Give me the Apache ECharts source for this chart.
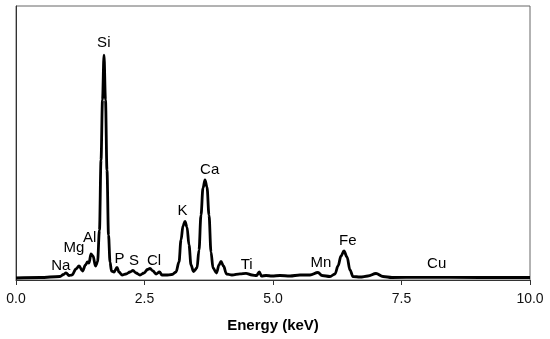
<!DOCTYPE html>
<html>
<head>
<meta charset="utf-8">
<script src="https://cdn.jsdelivr.net/npm/echarts@6/dist/echarts.min.js"></script>
<style>
html,body{margin:0;padding:0;background:#fff;}
#chart{width:550px;height:339px;}
</style>
</head>
<body>
<div id="chart"></div>
<script>
// Spectrum: energy (keV) and intensity (arbitrary units, 0-100)
var energy = [0, 0.467, 0.856, 0.924, 0.973, 1.031, 1.089, 1.167, 1.226, 1.294, 1.352, 1.391, 1.420, 1.459, 1.498, 1.547, 1.586, 1.624, 1.654, 1.683, 1.712, 1.741, 1.770, 1.800, 1.829, 1.858, 1.907, 1.965, 2.004, 2.062, 2.140, 2.218, 2.276, 2.335, 2.412, 2.490, 2.558, 2.607, 2.665, 2.724, 2.792, 2.840, 2.918, 3.035, 3.113, 3.171, 3.210, 3.249, 3.288, 3.327, 3.366, 3.405, 3.453, 3.521, 3.560, 3.599, 3.638, 3.677, 3.716, 3.755, 3.794, 3.833, 3.901, 3.949, 3.988, 4.037, 4.095, 4.202, 4.358, 4.475, 4.591, 4.679, 4.733, 4.776, 4.864, 4.981, 5.136, 5.331, 5.525, 5.720, 5.875, 5.953, 6.109, 6.206, 6.265, 6.323, 6.381, 6.440, 6.498, 6.556, 6.693, 6.848, 7.004, 7.140, 7.315, 7.860, 9.027, 10.0];
var intensity = [0.73, 0.91, 1.28, 2.0, 2.63, 1.64, 1.82, 4.01, 5.11, 3.28, 5.47, 6.57, 6.20, 9.49, 8.76, 5.11, 6.57, 18.2, 43.8, 65.7, 82.1, 65.7, 40.1, 16.4, 6.57, 3.28, 2.92, 4.56, 2.92, 1.82, 2.19, 2.92, 3.47, 2.55, 1.82, 2.55, 3.83, 4.20, 3.28, 2.19, 2.92, 1.82, 1.82, 2.0, 2.92, 6.57, 14.6, 19.7, 21.4, 19.3, 12.8, 5.47, 3.10, 4.38, 10.9, 23.7, 33.6, 36.5, 33.9, 23.7, 10.2, 4.38, 2.55, 5.47, 6.75, 5.11, 2.19, 1.82, 2.26, 2.45, 1.82, 1.64, 2.92, 1.46, 1.64, 1.46, 1.64, 1.46, 1.82, 1.82, 2.74, 1.64, 1.28, 2.19, 5.11, 8.76, 10.6, 8.39, 3.65, 1.28, 1.09, 1.46, 2.37, 1.28, 0.91, 0.99, 0.91, 0.91];

// Element labels
var elements = ['Na', 'Mg', 'Al', 'Si', 'P', 'S', 'Cl', 'K', 'Ca', 'Ti', 'Mn', 'Fe', 'Cu'];
var labelEnergy = [0.870, 1.128, 1.434, 1.708, 2.014, 2.296, 2.685, 3.239, 3.768, 4.488, 5.930, 6.455, 8.185];
var labelIntensity = [5.29, 11.7, 15.3, 86.4, 7.66, 6.93, 6.93, 25.4, 40.3, 5.47, 6.39, 14.2, 5.84];

var xTicks = [0, 2.5, 5, 7.5, 10];
var xTitle = 'Energy (keV)';

var lineData = energy.map(function (e, i) { return [e, intensity[i]]; });
var labelData = elements.map(function (n, i) { return { name: n, value: [labelEnergy[i], labelIntensity[i]] }; });

var FONT = '"Liberation Sans", Arial, Helvetica, sans-serif';
var chart = echarts.init(document.getElementById('chart'), null, { renderer: 'canvas' });
chart.setOption({
  animation: false,
  backgroundColor: '#ffffff',
  grid: { left: 16, right: 20, top: 6, bottom: 59, show: true, borderColor: '#666', borderWidth: 1, backgroundColor: 'transparent' },
  xAxis: {
    type: 'value', min: xTicks[0], max: xTicks[xTicks.length - 1], interval: 2.5,
    axisLine: { show: true, lineStyle: { color: '#333', width: 1 } },
    axisTick: { show: true, inside: false, length: 5, lineStyle: { color: '#333' } },
    axisLabel: { margin: 12, color: '#111', fontSize: 14, fontFamily: FONT, formatter: function (v) { return v.toFixed(1); } },
    splitLine: { show: false },
    name: xTitle, nameLocation: 'middle', nameGap: 38,
    nameTextStyle: { fontSize: 15, fontWeight: 'bold', color: '#000', fontFamily: FONT }
  },
  yAxis: {
    type: 'value', min: 0, max: 100,
    axisLine: { show: true, lineStyle: { color: '#333', width: 1 } },
    axisTick: { show: false }, axisLabel: { show: false }, splitLine: { show: false }
  },
  series: [
    {
      type: 'line', data: lineData, showSymbol: false, smooth: 0.35, smoothMonotone: 'x',
      lineStyle: { color: '#000', width: 2.8 }, z: 3
    },
    {
      type: 'scatter', data: labelData, symbolSize: 0, silent: true,
      itemStyle: { opacity: 1, color: '#000' },
      label: { show: true, position: 'inside', formatter: '{b}', color: '#000', opacity: 1, fontSize: 15, fontFamily: FONT },
      z: 4
    }
  ]
});
</script>
</body>
</html>
